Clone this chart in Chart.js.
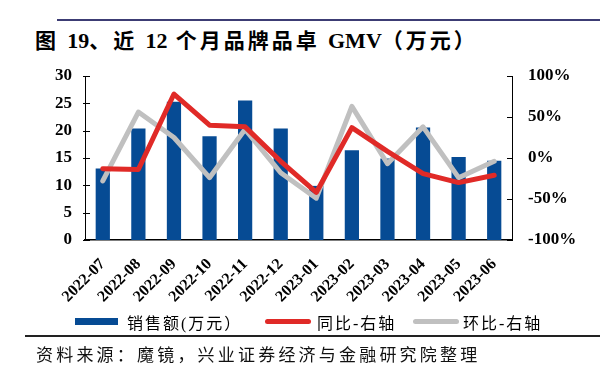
<!DOCTYPE html>
<html>
<head>
<meta charset="utf-8">
<script src="https://cdn.jsdelivr.net/npm/chart.js@4.4.0/dist/chart.umd.min.js"></script>
<style>
  html, body { margin:0; padding:0; background:#fff; }
  #wrap { position:relative; width:600px; height:384px; overflow:hidden; background:#fff; }
  #c { position:absolute; left:0; top:0; }
  .abs { position:absolute; white-space:nowrap; }
  #title { left:35px; top:24px; font:bold 21px "Liberation Serif","Noto Sans CJK SC",serif; letter-spacing:3px; color:#000; }
  #title .lat { letter-spacing:0; font-size:22px; }
  #topRule { left:57px; top:19px; width:543px; height:2px; background:#3c3c74; }
  #botRule { left:25px; top:335px; width:575px; height:2px; background:#222; }
  #source { left:36px; top:341px; font:17px "Noto Sans CJK SC",sans-serif; letter-spacing:3.2px; color:#111; }
  .lg { font:16px "Liberation Serif","Noto Sans CJK SC",serif; letter-spacing:2px; color:#000; top:310px; }
  .sw { position:absolute; }
</style>
</head>
<body>
<div id="wrap">
  <div id="topRule" class="abs"></div>
  <div id="title" class="abs">图 <span class="lat">19</span>、近 <span class="lat">12</span> 个月品牌品卓 <span class="lat">GMV</span>（万元）</div>
  <canvas id="c" width="600" height="384"></canvas>
  <div class="sw" style="left:75px;top:318px;width:43px;height:7px;background:#064b94;"></div>
  <div class="abs lg" style="left:127px;">销售额(万元）</div>
  <div class="sw" style="left:265px;top:319px;width:46px;height:5px;border-radius:3px;background:#e02a27;"></div>
  <div class="abs lg" style="left:317px;">同比-右轴</div>
  <div class="sw" style="left:413px;top:319px;width:46px;height:5px;border-radius:3px;background:#c0c0c0;"></div>
  <div class="abs lg" style="left:463px;">环比-右轴</div>
  <div id="botRule" class="abs"></div>
  <div id="source" class="abs">资料来源：魔镜，兴业证券经济与金融研究院整理</div>
</div>
<script>
const categories = ["2022-07","2022-08","2022-09","2022-10","2022-11","2022-12","2023-01","2023-02","2023-03","2023-04","2023-05","2023-06"];
const sales = [13.1, 20.4, 25.3, 19.0, 25.5, 20.4, 9.9, 16.4, 14.9, 20.6, 15.2, 14.5];
const yoy = [-13, -14, 78, 40, 38, -4, -42, 37, 8, -19, -30, -21];
const mom = [-28, 56, 25, -24, 35, -18, -49, 63, -7, 38, -24, -4];
const leftTicks = [0, 5, 10, 15, 20, 25, 30];
const rightTicks = [-100, -50, 0, 50, 100];

const tickFont = { family: '"Liberation Serif", serif', size: 17, weight: 'bold' };

const insideTicks = {
  id: 'insideTicks',
  afterDatasetsDraw(chart) {
    const ctx = chart.ctx;
    ctx.save();
    ctx.strokeStyle = '#000';
    ctx.lineWidth = 1;
    const y = chart.scales.y, y1 = chart.scales.y1;
    leftTicks.forEach(v => {
      const py = Math.round(y.getPixelForValue(v)) + 0.5;
      ctx.beginPath(); ctx.moveTo(y.right - 2, py); ctx.lineTo(y.right + 5, py); ctx.stroke();
    });
    rightTicks.forEach(v => {
      const py = Math.round(y1.getPixelForValue(v)) + 0.5;
      ctx.beginPath(); ctx.moveTo(y1.left - 5, py); ctx.lineTo(y1.left + 1, py); ctx.stroke();
    });
    ctx.restore();
  }
};

new Chart(document.getElementById('c'), {
  data: {
    labels: categories,
    datasets: [
      { type: 'line', label: '同比-右轴', data: yoy, yAxisID: 'y1', borderColor: '#e02a27', borderWidth: 5, pointRadius: 0, tension: 0, order: 0, borderJoinStyle: 'round', borderCapStyle: 'round' },
      { type: 'line', label: '环比-右轴', data: mom, yAxisID: 'y1', borderColor: '#c0c0c0', borderWidth: 5, pointRadius: 0, tension: 0, order: 1, borderJoinStyle: 'round', borderCapStyle: 'round' },
      { type: 'bar', label: '销售额(万元）', data: sales, yAxisID: 'y', backgroundColor: '#064b94', categoryPercentage: 1.0, barPercentage: 0.4, order: 2 }
    ]
  },
  options: {
    responsive: false,
    animation: false,
    layout: { padding: { top: 76, left: 0, right: 0, bottom: 0 } },
    plugins: { legend: { display: false }, tooltip: { enabled: false } },
    scales: {
      x: {
        grid: { display: false, drawTicks: false },
        border: { display: true, color: '#000', width: 1.5 },
        ticks: { font: { family: '"Liberation Serif", serif', size: 16, weight: 'bold' }, color: '#000', minRotation: 45, maxRotation: 45, padding: 15 },
        afterFit(s) { s.height = 144; }
      },
      y: {
        position: 'left', min: 0, max: 30,
        afterBuildTicks(s) { s.ticks = leftTicks.map(v => ({ value: v })); },
        grid: { display: false, drawTicks: false },
        border: { display: true, color: '#000', width: 1 },
        ticks: { font: tickFont, color: '#000', padding: 13 },
        afterFit(s) { s.width = 85; }
      },
      y1: {
        position: 'right', min: -100, max: 100,
        afterBuildTicks(s) { s.ticks = rightTicks.map(v => ({ value: v })); },
        grid: { display: false, drawTicks: false },
        border: { display: true, color: '#000', width: 1 },
        ticks: { font: tickFont, color: '#000', padding: 16, callback: v => v + '%' },
        afterFit(s) { s.width = 88; }
      }
    }
  },
  plugins: [insideTicks]
});
</script>
</body>
</html>
